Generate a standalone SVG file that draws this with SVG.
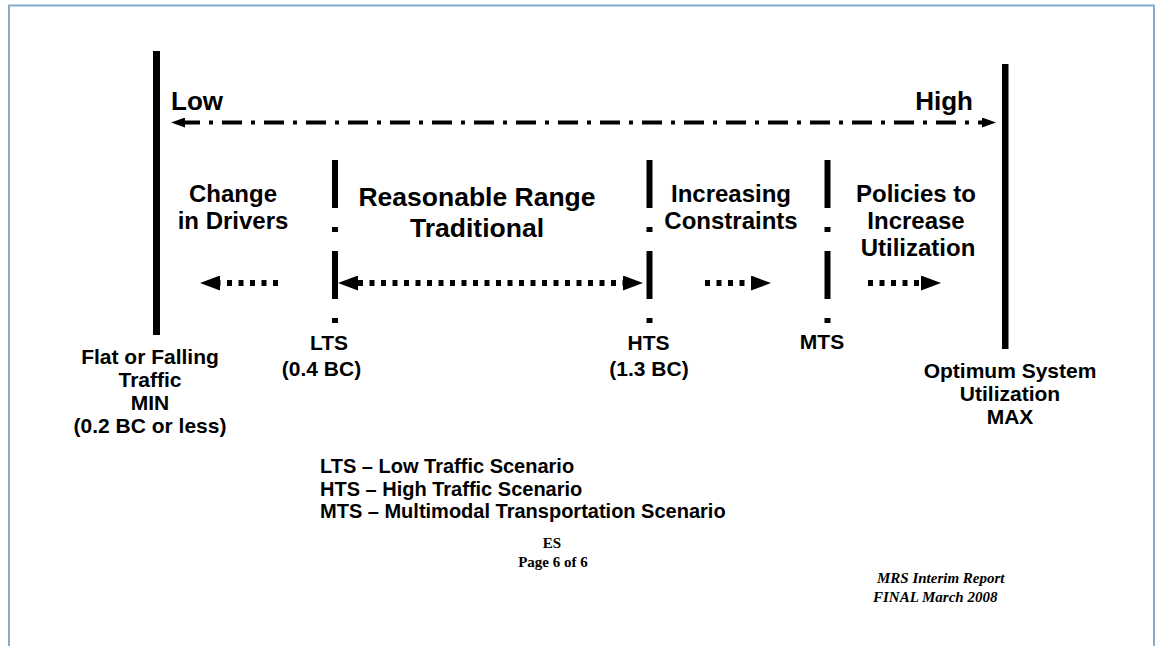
<svg xmlns="http://www.w3.org/2000/svg" width="1158" height="646" viewBox="0 0 1158 646">
<style>
.t{font-family:"Liberation Sans",Arial,sans-serif;font-weight:bold;fill:#000}
.m{text-anchor:middle}
.s{font-family:"Liberation Serif","Times New Roman",serif;font-weight:bold;fill:#000}
.bar{fill:#000}
.sep{stroke:#000;stroke-width:6;stroke-dasharray:48 19 5 19;fill:none}
.dot{stroke:#000;stroke-width:6;stroke-dasharray:5 6.5;fill:none}
.dd{stroke:#000;stroke-width:4;stroke-dasharray:20 9 4 9;fill:none}
</style>
<defs>
<marker id="hd" markerUnits="userSpaceOnUse" markerWidth="20" markerHeight="15" refX="0" refY="7.5" orient="auto-start-reverse">
<path d="M0,0 L20,7.5 L0,15 z" fill="#000"/>
</marker>
<marker id="hs" markerUnits="userSpaceOnUse" markerWidth="14" markerHeight="10" refX="0" refY="5" orient="auto-start-reverse">
<path d="M0,0 L14,5 L0,10 z" fill="#000"/>
</marker>
</defs>
<rect x="0" y="0" width="1158" height="646" fill="#fff"/>
<path d="M9,650 V5.5 H1154 V650" fill="none" stroke="#86ABD0" stroke-width="2"/>

<g id="min-bar"><rect class="bar" x="153" y="51" width="7" height="284"/></g>
<g id="max-bar"><rect class="bar" x="1002" y="64" width="6.5" height="285"/></g>
<g id="lts-sep"><line class="sep" x1="335" y1="160" x2="335" y2="323"/></g>
<g id="hts-sep"><line class="sep" x1="649.5" y1="160" x2="649.5" y2="323"/></g>
<g id="mts-sep"><line class="sep" x1="827.5" y1="160" x2="827.5" y2="323"/></g>

<g id="connectors">
<line class="dd" x1="185" y1="122.5" x2="982" y2="122.5" stroke-dashoffset="5" marker-start="url(#hs)" marker-end="url(#hs)"/>
<line class="dot" x1="278" y1="283" x2="220" y2="283" marker-end="url(#hd)"/>
<line class="dot" x1="358" y1="283" x2="623" y2="283" marker-start="url(#hd)" marker-end="url(#hd)"/>
<line class="dot" x1="705" y1="283" x2="751" y2="283" marker-end="url(#hd)"/>
<line class="dot" x1="868" y1="283" x2="921" y2="283" marker-end="url(#hd)"/>
</g>

<g id="low"><text class="t" x="171" y="110" font-size="26">Low</text></g>
<g id="high"><text class="t" x="973" y="110" font-size="26" text-anchor="end">High</text></g>

<g id="change-drivers"><text class="t m" x="233" font-size="24"><tspan x="233" y="202">Change</tspan><tspan x="233" y="229">in Drivers</tspan></text></g>
<g id="reasonable-range"><text class="t m" x="477" font-size="26.5"><tspan x="477" y="206">Reasonable Range</tspan><tspan x="477" y="237">Traditional</tspan></text></g>
<g id="increasing-constraints"><text class="t m" x="731" font-size="24"><tspan x="731" y="202">Increasing</tspan><tspan x="731" y="229">Constraints</tspan></text></g>
<g id="policies"><text class="t m" x="916" font-size="24"><tspan x="916" y="202">Policies to</tspan><tspan x="916" y="229">Increase</tspan><tspan x="918" y="256">Utilization</tspan></text></g>

<g id="min-label"><text class="t m" font-size="21"><tspan x="150" y="364">Flat or Falling</tspan><tspan x="150" y="387">Traffic</tspan><tspan x="150" y="410">MIN</tspan><tspan x="150" y="433">(0.2 BC or less)</tspan></text></g>
<g id="lts-label"><text class="t m" font-size="21"><tspan x="329" y="350">LTS</tspan><tspan x="321.5" y="376">(0.4 BC)</tspan></text></g>
<g id="hts-label"><text class="t m" font-size="21"><tspan x="648.5" y="350">HTS</tspan><tspan x="649" y="376">(1.3 BC)</tspan></text></g>
<g id="mts-label"><text class="t m" font-size="21" x="822" y="349">MTS</text></g>
<g id="max-label"><text class="t m" font-size="21"><tspan x="1010" y="378">Optimum System</tspan><tspan x="1010" y="401">Utilization</tspan><tspan x="1010" y="424">MAX</tspan></text></g>

<g id="legend"><text class="t" font-size="20"><tspan x="320" y="473">LTS – Low Traffic Scenario</tspan><tspan x="320" y="495.5">HTS – High Traffic Scenario</tspan><tspan x="320" y="518">MTS – Multimodal Transportation Scenario</tspan></text></g>
<g id="page"><text class="s m" font-size="15"><tspan x="552" y="548">ES</tspan><tspan x="553" y="567">Page 6 of 6</tspan></text></g>
<g id="footer"><text class="s" font-size="15" font-style="italic"><tspan x="877" y="583">MRS Interim Report</tspan><tspan x="873" y="602">FINAL March 2008</tspan></text></g>
</svg>
